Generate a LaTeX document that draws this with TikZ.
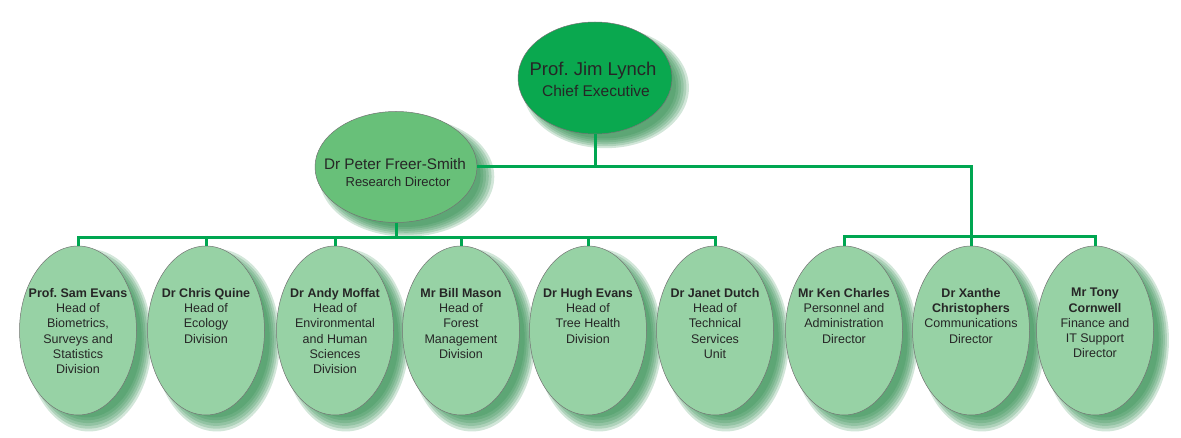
\documentclass[tikz,border=0pt]{standalone}
\usepackage{fontspec}
\setmainfont{Liberation Sans}
\usetikzlibrary{shapes.geometric,shadows}
\definecolor{lineg}{HTML}{00A651}
\definecolor{topg}{HTML}{0AA84F}
\definecolor{midg}{HTML}{68C079}
\definecolor{lowg}{HTML}{97D2A5}
\definecolor{shg}{HTML}{2A8A4A}
\definecolor{txt}{HTML}{262626}
\frenchspacing
\tikzset{
  shd/.style={drop shadow={shadow xshift=10pt,shadow yshift=-9pt,shadow scale=#1,fill=shg,opacity=0.21}},
  soft/.style={shd=0.93,shd=0.96,shd=0.99,shd=1.02,shd=1.05,shd=1.08},
  oval/.style={ellipse, draw=black!55, line width=0.5pt, inner sep=0pt, soft},
  ovaltop/.style={oval, fill=topg, minimum width=154pt, minimum height=112pt},
  ovalmid/.style={oval, fill=midg, minimum width=162pt, minimum height=111pt},
  ovallow/.style={oval, fill=lowg, minimum width=117pt, minimum height=169pt},
  lab/.style={align=center, text=txt, inner sep=0pt, font=\fontsize{12.5}{15.3}\selectfont, anchor=north},
  conn/.style={draw=lineg, line width=3pt}
}
\begin{document}
\begin{tikzpicture}[x=1pt,y=-1pt]
\useasboundingbox (0,0) rectangle (1181,438);
% nodes
\node[ovaltop] (ceo) at (595,78) {};
\node[ovalmid] (peter) at (396,167) {};
\node[ovallow] (sam) at (78,330.5) {};
\node[ovallow] (chris) at (206,330.5) {};
\node[ovallow] (andy) at (335,330.5) {};
\node[ovallow] (bill) at (461,330.5) {};
\node[ovallow] (hugh) at (588,330.5) {};
\node[ovallow] (janet) at (715,330.5) {};
\node[ovallow] (ken) at (844,330.5) {};
\node[ovallow] (xan) at (971,330.5) {};
\node[ovallow] (tony) at (1095,330.5) {};
% texts
\node[text=txt, inner sep=0pt, anchor=base, font=\fontsize{18.5}{20}\selectfont] (ceoN) at (593,76) {Prof. Jim Lynch};
\node[text=txt, inner sep=0pt, anchor=base, font=\fontsize{15.5}{18}\selectfont] (ceoT) at (596,97) {Chief Executive};
\node[text=txt, inner sep=0pt, anchor=base, font=\fontsize{15.3}{18}\selectfont] (peterN) at (395,170) {Dr Peter Freer-Smith};
\node[text=txt, inner sep=0pt, anchor=base, font=\fontsize{13}{16}\selectfont] (peterT) at (398,187) {Research Director};
\node[lab] (samT) at (78,288) {\textbf{Prof. Sam Evans}\\Head of\\Biometrics,\\Surveys and\\Statistics\\Division};
\node[lab] (chrisT) at (206,288) {\textbf{Dr Chris Quine}\\Head of\\Ecology\\Division};
\node[lab] (andyT) at (335,288) {\textbf{Dr Andy Moffat}\\Head of\\Environmental\\and Human\\Sciences\\Division};
\node[lab] (billT) at (461,288) {\textbf{Mr Bill Mason}\\Head of\\Forest\\Management\\Division};
\node[lab] (hughT) at (588,288) {\textbf{Dr Hugh Evans}\\Head of\\Tree Health\\Division};
\node[lab] (janetT) at (715,288) {\textbf{Dr Janet Dutch}\\Head of\\Technical\\Services\\Unit};
\node[lab] (kenT) at (844,288) {\textbf{Mr Ken Charles}\\Personnel and\\Administration\\Director};
\node[lab] (xanT) at (971,288) {\textbf{Dr Xanthe}\\\textbf{Christophers}\\Communications\\Director};
\node[lab] (tonyT) at (1095,288) {\textbf{Mr Tony}\\\textbf{Cornwell}\\Finance and\\IT Support\\Director};
% connectors
\coordinate (busL) at (0,238);
\coordinate (busR) at (0,237);
\draw[conn] (ceo.south) -- (ceo.south |- peter.east);
\draw[conn] (peter.east) -- (xan.north |- peter.east) -- (xan.north);
\draw[conn] (peter.south) -- (peter.south |- busL);
\draw[conn] (sam.north) -- (sam.north |- busL) -- (janet.north |- busL) -- (janet.north);
\foreach \n in {chris,andy,bill,hugh} \draw[conn] (\n.north) -- (\n.north |- busL);
\draw[conn] (ken.north) -- (ken.north |- busR) -- (tony.north |- busR) -- (tony.north);
\end{tikzpicture}
\end{document}
